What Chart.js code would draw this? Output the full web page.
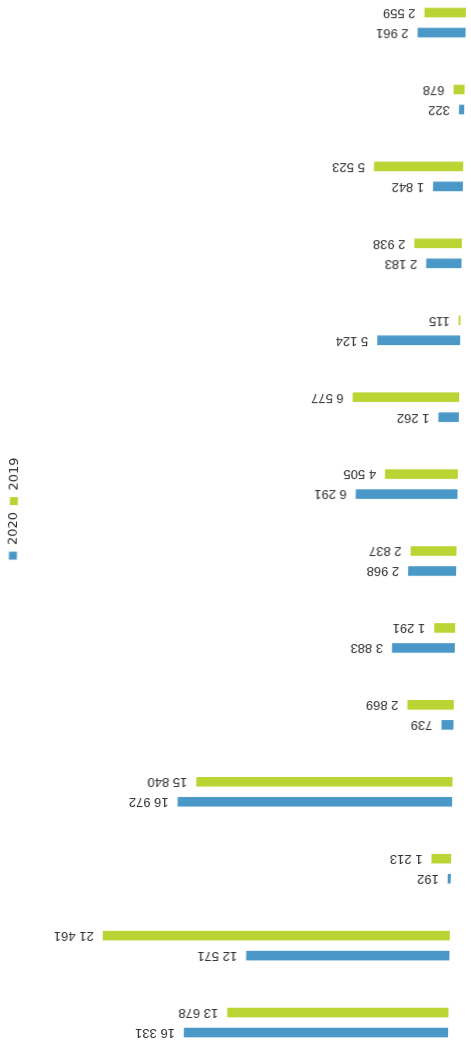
<!DOCTYPE html>
<html>
<head>
<meta charset="utf-8">
<script src="https://cdn.jsdelivr.net/npm/chart.js@4/dist/chart.umd.min.js"></script>
<style>
  html, body { margin: 0; padding: 0; background: #fff; overflow: hidden; width: 471px; height: 1049px; }
  #wrap {
    position: absolute;
    left: -303px;
    top: 287px;
    width: 1077px;
    height: 471px;
    transform: skewX(-1deg) rotate(-90deg);
    transform-origin: 50% 50%;
  }
  canvas { display: block; }
</style>
</head>
<body>
<div id="wrap"><canvas id="c" width="1077" height="471"></canvas></div>
<script>
// Category keys (the axis itself is not drawn)
const categories = ['1', '2', '3', '4', '5', '6', '7', '8', '9', '10', '11', '12', '13', '14'];
// Series
const seriesNames = ['2020', '2019'];
const values2020 = [16331, 12571, 192, 16972, 739, 3883, 2968, 6291, 1262, 5124, 2183, 1842, 322, 2961];
const values2019 = [13678, 21461, 1213, 15840, 2869, 1291, 2837, 4505, 6577, 115, 2938, 5523, 678, 2559];
// Value axis range
const valueMin = 0;
const valueMax = 26400;

const BLUE = '#4a98c7';
const GREEN = '#bad533';

// thousands separated by a space: 16 331
function fmt(v) {
  return String(v).replace(/\B(?=(\d{3})+(?!\d))/g, ' ');
}

// draws each bar's value above it, written upwards
const valueLabels = {
  id: 'valueLabels',
  afterDatasetsDraw(chart) {
    const ctx = chart.ctx;
    ctx.save();
    ctx.font = '13px "Liberation Sans", Arial, sans-serif';
    ctx.fillStyle = '#2c2c2c';
    ctx.textAlign = 'left';
    ctx.textBaseline = 'middle';
    chart.data.datasets.forEach((ds, di) => {
      const meta = chart.getDatasetMeta(di);
      meta.data.forEach((bar, i) => {
        ctx.save();
        ctx.translate(bar.x, bar.y - 9);
        ctx.rotate(-Math.PI / 2);
        ctx.fillText(fmt(ds.data[i]), 0, 0);
        ctx.restore();
      });
    });
    ctx.restore();
  }
};

// the legend sits a little right of centre
const legendShift = {
  id: 'legendShift',
  afterLayout(chart) {
    if (chart.legend) {
      chart.legend.left += 14;
      chart.legend.right += 14;
    }
  }
};

new Chart(document.getElementById('c'), {
  type: 'bar',
  data: {
    labels: categories,
    datasets: [
      { label: seriesNames[0], data: values2020, backgroundColor: BLUE, borderWidth: 0 },
      { label: seriesNames[1], data: values2019, backgroundColor: GREEN, borderWidth: 0 }
    ]
  },
  options: {
    responsive: false,
    animation: false,
    devicePixelRatio: 1,
    categoryPercentage: 0.52,
    barPercentage: 0.48,
    layout: { padding: { left: 0, right: 0, top: 0, bottom: 14 } },
    plugins: {
      legend: {
        display: true,
        position: 'top',
        labels: {
          boxWidth: 8,
          boxHeight: 8,
          padding: 7,
          color: '#2c2c2c',
          font: { size: 13, family: '"DejaVu Sans", Verdana, sans-serif' }
        }
      },
      tooltip: { enabled: false }
    },
    scales: {
      x: { display: false, offset: true, grid: { display: false } },
      y: { display: false, min: valueMin, max: valueMax, grid: { display: false } }
    }
  },
  plugins: [valueLabels, legendShift]
});
</script>
</body>
</html>
